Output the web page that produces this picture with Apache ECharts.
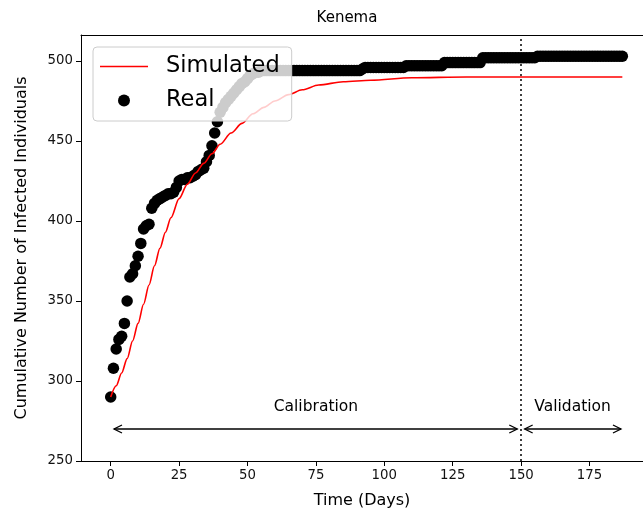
<!DOCTYPE html>
<html>
<head>
<meta charset="utf-8">
<script src="https://cdn.jsdelivr.net/npm/echarts@6/dist/echarts.min.js"></script>
<style>
html,body{margin:0;padding:0;background:#fff;}
#chart{width:643px;height:517px;}
</style>
</head>
<body>
<div id="chart"></div>
<script>
// ---- data ----
const chartTitle = 'Kenema';
const xName = 'Time (Days)';
const yName = 'Cumulative Number of Infected Individuals';
const xTicks = [0, 25, 50, 75, 100, 125, 150, 175];
const yTicks = [250, 300, 350, 400, 450, 500];

// Real observations, one per day starting at day 0
const realVals = [
  290,308,320,326,328,336,350,365,367,372,
  378,386,395,397,398,408,411,413,414,415,
  416,417,417,418,421,425,426,426,427,427,
  428,429,431,432,433,437,441,447,455,462,
  468,471,474,476,478,480,482,484,486,487,
  489,491,492,493,493,494,494,494,494,494,
  494,494,494,494,494,494,494,494,494,494,
  494,494,494,494,494,494,494,494,494,494,
  494,494,494,494,494,494,494,494,494,494,
  494,494,495,496,496,496,496,496,496,496,
  496,496,496,496,496,496,496,496,497,497,
  497,497,497,497,497,497,497,497,497,497,
  497,497,499,499,499,499,499,499,499,499,
  499,499,499,499,499,499,502,502,502,502,
  502,502,502,502,502,502,502,502,502,502,
  502,502,502,502,502,502,503,503,503,503,
  503,503,503,503,503,503,503,503,503,503,
  503,503,503,503,503,503,503,503,503,503,
  503,503,503,503,503,503,503,503
];

// Simulated curve samples
const simDays = [0,2,4,6,8,10,12,14,16,18,20,22,25,28,31,34,37,40,44,48,52,56,60,65,70,76,85,95,110,130,150,170,187];
const simVals = [290,297,305,314,325,336,348,360,372,383,393,402,414,423,430,436,442,448,455,461,467,471,475,479,482,485,487,488,489.5,490,490,490,490];

const splitDay = 150;
// annotation arrows: [start day, end day, level]
const arrowSpans = [[1.2, 148.6, 270], [151.3, 186.5, 270]];
const annoTexts = ['Calibration', 'Validation'];
const annoPos = [[75, 283.75], [168.8, 283.75]];

// ---- chart ----
const font = 'DejaVu Sans';
const chart = echarts.init(document.getElementById('chart'));
const realData = realVals.map((v, i) => [i, v]);
const simData = simDays.map((d, i) => [d, simVals[i]]);

const option = {
  animation: false,
  graphic: [{
    type: 'text', x: 347, y: 18,
    style: { text: chartTitle, font: '15px "DejaVu Sans"', fill: '#000', align: 'center', verticalAlign: 'middle' }
  }],
  legend: {
    left: 93, top: 47,
    orient: 'vertical',
    data: [
      { name: 'Simulated', icon: 'path://M0,0 L48,0 L48,1.6 L0,1.6 Z', itemStyle: { color: '#ff0000' } },
      { name: 'Real', icon: 'circle', itemStyle: { color: '#000', opacity: 1 } }
    ],
    itemWidth: 48, itemHeight: 12, itemGap: 11,
    padding: [8, 12, 9, 7],
    backgroundColor: 'rgba(255,255,255,0.8)',
    borderColor: '#cccccc', borderWidth: 1, borderRadius: 4,
    textStyle: { fontFamily: font, fontSize: 22.5, color: '#000', lineHeight: 23, padding: [0, 0, 0, 13] }
  },
  grid: {
    left: 81, top: 35, right: 0, height: 426,
    show: false
  },
  xAxis: [{
    type: 'value', min: -10.86, max: 194.55, position: 'bottom',
    name: xName, nameLocation: 'middle', nameGap: 32,
    nameTextStyle: { fontFamily: font, fontSize: 16, color: '#000' },
    axisLine: { show: true, onZero: false, lineStyle: { color: '#000', width: 1 } },
    axisTick: { show: true, length: 5, lineStyle: { color: '#000' }, customValues: xTicks },
    axisLabel: { fontFamily: font, fontSize: 13.3, color: '#111', margin: 8, customValues: xTicks },
    splitLine: { show: false }
  }, {
    type: 'value', min: -10.86, max: 194.55, position: 'top',
    axisLine: { show: true, onZero: false, lineStyle: { color: '#000', width: 1 } },
    axisTick: { show: false }, axisLabel: { show: false }, splitLine: { show: false }
  }],
  yAxis: {
    type: 'value', min: 250, max: 516.25, interval: 50,
    name: yName, nameLocation: 'middle', nameGap: 51,
    nameTextStyle: { fontFamily: font, fontSize: 16, color: '#000' },
    axisLine: { show: true, onZero: false, lineStyle: { color: '#000', width: 1 } },
    axisTick: { show: true, length: 5, lineStyle: { color: '#000' }, customValues: yTicks },
    axisLabel: { fontFamily: font, fontSize: 13.3, color: '#111', margin: 8, customValues: yTicks },
    splitLine: { show: false }
  },
  series: [
    {
      name: 'Real', type: 'scatter', data: realData, symbolSize: 11.5,
      itemStyle: { color: '#000', opacity: 1 }, z: 2,
      markLine: {
        silent: true, symbol: 'none', label: { show: false },
        lineStyle: { color: '#000', type: [2, 3], width: 1.5 },
        data: [{ xAxis: splitDay }]
      }
    },
    {
      name: 'Simulated', type: 'line', data: simData, symbol: 'none',
      smooth: 0.3, smoothMonotone: 'x',
      lineStyle: { color: '#ff0000', width: 1.6 }, itemStyle: { color: '#ff0000' }, z: 3
    },
    {
      name: 'arrows', type: 'custom', data: arrowSpans, z: 4, silent: true,
      renderItem: function (params, api) {
        const p1 = api.coord([api.value(0), api.value(2)]);
        const p2 = api.coord([api.value(1), api.value(2)]);
        const st = { stroke: '#000', lineWidth: 1.3, fill: null };
        return {
          type: 'group', children: [
            { type: 'line', shape: { x1: p1[0], y1: p1[1], x2: p2[0], y2: p2[1] }, style: st },
            { type: 'polyline', shape: { points: [[p1[0] + 8, p1[1] - 4], [p1[0], p1[1]], [p1[0] + 8, p1[1] + 4]] }, style: st },
            { type: 'polyline', shape: { points: [[p2[0] - 8, p2[1] - 4], [p2[0], p2[1]], [p2[0] - 8, p2[1] + 4]] }, style: st }
          ]
        };
      }
    },
    {
      name: 'texts', type: 'custom', data: annoPos, z: 4, silent: true,
      renderItem: function (params, api) {
        const p = api.coord([api.value(0), api.value(1)]);
        return {
          type: 'text', x: p[0], y: p[1],
          style: { text: annoTexts[params.dataIndex], font: '15.5px "DejaVu Sans"', fill: '#000', align: 'center', verticalAlign: 'middle' }
        };
      }
    }
  ]
};
chart.setOption(option);
</script>
</body>
</html>
